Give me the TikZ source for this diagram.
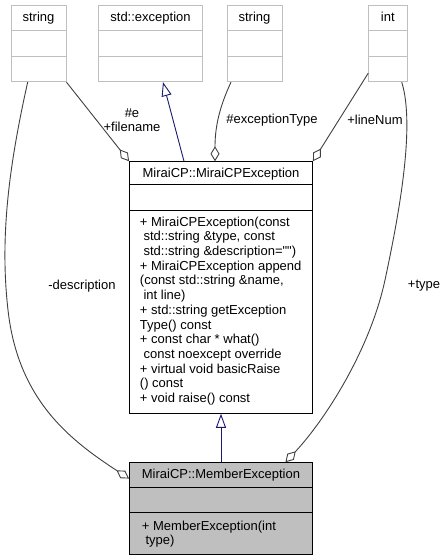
\documentclass[tikz,border=0pt]{standalone}
\usepackage{fontspec}
\newfontfamily\dxfont{Liberation Sans}
\usetikzlibrary{arrows.meta,positioning,calc,fit}
\definecolor{boxgray}{HTML}{BFBFBF}
\definecolor{edgegray}{HTML}{404040}
\definecolor{inhblue}{HTML}{191970}
\tikzset{
    every picture/.style={line width=0.9pt},
    txt/.style={font={\dxfont\fontsize{13}{14.7}\selectfont},inner sep=0pt},
    typebox/.style={draw=boxgray,inner sep=0pt},
    classbox/.style={draw=black,fill=white,inner sep=0pt},
    agg/.style={draw=edgegray,{Diamond[fill=white,length=15pt,width=9pt]}-},
    inherit/.style={draw=inhblue,-{Triangle[fill=white,length=14pt,width=10pt]}}
}

\begin{document}
\begin{tikzpicture}[x=1pt,y=-1pt]
        \useasboundingbox (0,0) rectangle (447,560);

        % Member types
        \foreach \n/\xa/\xb/\t in {
            strA/11/66/string, exc/98.7/202.3/std::exception, strB/227/282/string, int/368.7/407/int
        } {
            \node[typebox,fit={(\xa,5.7) (\xb,81.7)}] (\n) {};
            \node[txt,anchor=base] at ([yshift=-16.3pt]\n.north) {\t};
            \draw[boxgray] ([yshift=-25.5pt]\n.north west) -- ([yshift=-25.5pt]\n.north east)
                           ([yshift=-51pt]\n.north west) -- ([yshift=-51pt]\n.north east);
        }

        % MiraiCPException
        \node[classbox,fit={(129.5,161.7) (312.5,413.3)}] (mce) {};
        \draw ([yshift=-23.3pt]mce.north west) -- ([yshift=-23.3pt]mce.north east)
              ([yshift=-49.3pt]mce.north west) -- ([yshift=-49.3pt]mce.north east);
        \node[txt,anchor=base] (mcename) at ([yshift=-16pt]mce.north) {MiraiCP::MiraiCPException};
        \node[txt,align=left,anchor=west] (mceops) at (139.5,311) {%
            + MiraiCPException(const\\
            \hspace*{3.6pt}std::string \&type, const\\
            \hspace*{3.6pt}std::string \&description="")\\
            + MiraiCPException append\\
            (const std::string \&name,\\
            \hspace*{3.6pt}int line)\\
            + std::string getException\\
            Type() const\\
            + const char * what()\\
            \hspace*{3.6pt}const noexcept override\\
            + virtual void basicRaise\\
            () const\\
            + void raise() const};

        % MemberException
        \node[classbox,fill=boxgray,fit={(129.5,462.7) (312.5,554)}] (me) {};
        \draw ([yshift=-25.3pt]me.north west) -- ([yshift=-25.3pt]me.north east)
              ([yshift=-50.3pt]me.north west) -- ([yshift=-50.3pt]me.north east);
        \node[txt,anchor=base] (mename) at ([yshift=-16pt]me.north) {MiraiCP::MemberException};
        \node[txt,align=left,anchor=west] (meops) at (141.5,534) {%
            + MemberException(int\\
            \hspace*{3.6pt}type)};

        % Inheritance
        \draw[inherit] ([xshift=-37pt]mce.north) -- ([xshift=12.5pt]exc.south);
        \draw[inherit] (me.north) -- (mce.south);

        % Aggregation
        \draw[agg] (mce.north west) -- (strA.south east);
        \draw[agg] ([xshift=-6pt]mce.north) .. controls (215,130) and (218,110) .. ([xshift=-23.5pt]strB.south);
        \draw[agg] (mce.north east) -- ([yshift=9pt]int.south west);
        \draw[agg] ([yshift=-16.3pt]me.north west) .. controls (70,440) and (18,400) .. (8,310)
                   .. controls (0,240) and (8,170) .. ([xshift=-10.8pt]strA.south);
        \draw[agg] ([xshift=-27.5pt]me.north east) .. controls (325,420) and (370,350) .. (385,280)
                   .. controls (400,210) and (415,125) .. ([xshift=13.9pt]int.south);

        % Labels
        \node[txt,align=center] (lfile) at (132,120) {\#e\\+filename};
        \node[txt] (ltype) at (272,120) {\#exceptionType};
        \node[txt] (lline) at (375,120) {+lineNum};
        \node[txt] (ldesc) at (82,286) {-description};
        \node[txt] (ltyp) at (424,286) {+type};
    \end{tikzpicture}
\end{document}
